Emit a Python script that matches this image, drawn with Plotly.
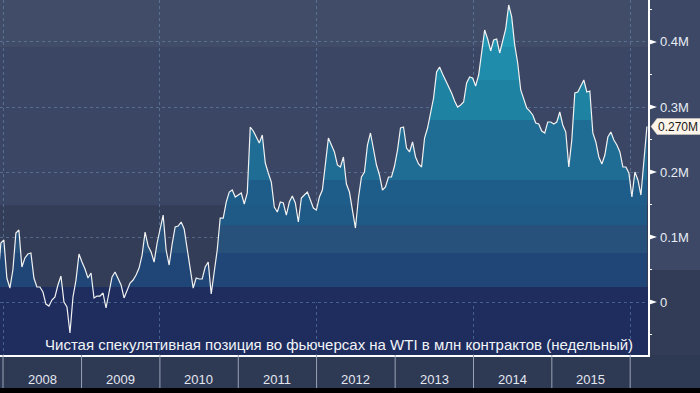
import pandas as pd
import plotly.graph_objects as go

# ---------------- data ----------------
END_DATE = "2016-03-19"          # last weekly report shown
STEP = "14D"                     # sampled every two weeks
# Net speculative position in WTI futures, thousand contracts
net_position_k = [
    33.8, 90.8, 95.4, 36.9, 21.5, 49.2, 106.2, 110.8, 53.8, 67.7,
    73.8, 75.4, 36.9, 23.1, 23.1, 15.4, -3.1, -6.2, 3.1, 7.7,
    26.2, 40.0, 0.0, -7.7, -47.7, 7.7, 33.8, 73.8, 61.5, 50.8,
    36.9, 44.6, 6.2, 9.2, 9.2, 13.8, -9.2, 12.3, 38.5, 46.2,
    35.4, 26.2, 6.2, 18.5, 29.2, 33.8, 41.5, 52.3, 72.3, 107.7,
    86.2, 76.9, 61.5, 90.8, 110.8, 133.8, 80.0, 56.9, 89.2, 115.4,
    116.9, 123.1, 112.3, 80.0, 53.8, 21.5, 36.9, 35.4, 35.4, 53.8,
    61.5, 12.3, 46.2, 80.0, 129.2, 129.2, 153.8, 169.2, 172.3, 161.5,
    164.6, 167.7, 150.8, 167.7, 269.2, 263.1, 253.8, 244.6, 256.9, 213.8,
    198.5, 184.6, 146.2, 138.5, 153.8, 152.3, 133.8, 153.8, 163.1, 152.3,
    123.1, 160.0, 164.6, 169.2, 156.9, 144.6, 141.5, 161.5, 172.3, 210.8,
    252.3, 241.5, 230.8, 210.8, 207.7, 223.1, 181.5, 169.2, 138.5, 113.8,
    160.0, 192.3, 200.0, 241.5, 260.0, 233.8, 210.8, 195.4, 172.3, 176.9,
    192.3, 192.3, 209.2, 233.8, 267.7, 269.2, 236.9, 230.8, 246.2, 223.1,
    212.3, 207.7, 252.3, 267.7, 292.3, 313.8, 353.8, 361.5, 350.8, 341.5,
    332.3, 321.5, 309.2, 300.0, 303.1, 307.7, 336.9, 346.2, 344.6, 332.3,
    349.2, 380.0, 418.5, 404.6, 386.2, 403.1, 404.6, 383.1, 401.5, 420.0,
    456.9, 438.5, 395.4, 367.7, 326.2, 312.3, 298.5, 293.8, 287.7, 275.4,
    273.8, 263.1, 260.0, 276.9, 276.9, 273.8, 276.9, 292.3, 272.3, 261.5,
    207.7, 249.2, 321.5, 323.1, 332.3, 341.5, 323.1, 324.6, 260.0, 246.2,
    223.1, 212.3, 226.2, 253.8, 261.5, 249.2, 241.5, 230.8, 207.7, 207.7,
    198.5, 161.5, 200.0, 187.7, 164.6, 218.5, 270.0,
]
years = [2008, 2009, 2010, 2011, 2012, 2013, 2014, 2015]
year_bounds = [2008, 2009, 2010, 2011, 2012, 2013, 2014, 2015, 2016]
y_ticks = [0, 100000, 200000, 300000, 400000]
y_tick_text = ["0", "0.1M", "0.2M", "0.3M", "0.4M"]
y_minor = [-50000, 50000, 150000, 250000, 350000, 450000]
last_label = "0.270M"
title_text = "Чистая спекулятивная позиция во фьючерсах на WTI в млн контрактов (недельный)"

# ---------------- figure ----------------
values = [v * 1000 for v in net_position_k]
dates = pd.date_range(end=END_DATE, periods=len(values), freq=STEP)

Y_MIN, Y_MAX = -81500, 464600
X_MIN, X_MAX = "2007-12-18", "2016-03-24"

W, H = 700, 393
ML, MR, MT, MB = 0, 52, 0, 38
PW = W - ML - MR
PH = H - MT - MB

def px_x(px):      # pixel x -> paper x
    return (px - ML) / PW

def px_y(py):      # pixel y -> paper y
    return (H - MB - py) / PH

# stepped fill colours along value axis (thousand-contract boundaries)
fill_bands = [
    (-100, 23, "#1e2c5e"),
    (23, 75, "#1f4677"),
    (75, 118, "#27517b"),
    (118, 149, "#1f5a86"),
    (149, 188, "#1e5d89"),
    (188, 280, "#1f6d94"),
    (280, 342, "#1e82a2"),
    (342, 392, "#1f8cab"),
    (392, 500, "#2398b4"),
]
g0, g1 = -100000, 500000
cscale = []
for lo, hi, c in fill_bands:
    cscale.append([(lo * 1000 - g0) / (g1 - g0), c])
    cscale.append([(hi * 1000 - g0) / (g1 - g0), c])

fig = go.Figure()
fig.add_trace(go.Scatter(
    x=dates, y=values, mode="lines",
    line=dict(color="#f2f2f2", width=1.2),
    fill="tozeroy",
    fillgradient=dict(type="vertical", colorscale=cscale, start=g0, stop=g1),
    hoverinfo="skip", showlegend=False,
))

shapes = []
# background bands in plot area
bg_bands = [
    (Y_MIN, 23000, "#1e2c5e"),
    (23000, 149000, "#333d58"),
    (149000, 392000, "#3a4663"),
    (392000, Y_MAX, "#404c68"),
]
for lo, hi, c in bg_bands:
    shapes.append(dict(type="rect", xref="paper", yref="y", x0=0, x1=1, y0=lo, y1=hi,
                       fillcolor=c, line=dict(width=0), layer="below"))
# right axis area
shapes.append(dict(type="rect", xref="paper", yref="paper", x0=1, x1=px_x(W + 2),
                   y0=px_y(270), y1=1, fillcolor="#3c4865", line=dict(width=0), layer="below"))
shapes.append(dict(type="rect", xref="paper", yref="paper", x0=1, x1=px_x(W + 2),
                   y0=0, y1=px_y(270), fillcolor="#323c57", line=dict(width=0), layer="below"))
# bottom year band
shapes.append(dict(type="rect", xref="paper", yref="paper", x0=0, x1=px_x(W + 2),
                   y0=px_y(388), y1=0, fillcolor="#2e3954", line=dict(width=0), layer="below"))
# year separators
for yb in year_bounds:
    shapes.append(dict(type="line", xref="x", yref="paper", x0=f"{yb}-01-01", x1=f"{yb}-01-01",
                       y0=0, y1=px_y(388), line=dict(color="#9aa3b5", width=1)))
# tick triangles
k_per_px = (Y_MAX - Y_MIN) / PH
for v in y_ticks:
    h = 3 * k_per_px
    shapes.append(dict(type="path", xref="paper", yref="y",
                       path=f"M {px_x(648)},{v + h} L {px_x(657)},{v} L {px_x(648)},{v - h} Z",
                       fillcolor="#ffffff", line=dict(width=0)))
for v in y_minor:
    shapes.append(dict(type="line", xref="paper", yref="y", x0=px_x(648), x1=px_x(652),
                       y0=v, y1=v, line=dict(color="#ffffff", width=1)))
# last value tag
lv = values[-1]
hh = 8 * k_per_px
shapes.append(dict(type="path", xref="paper", yref="y",
                   path=(f"M {px_x(651)},{lv} L {px_x(657)},{lv + hh} L {px_x(701)},{lv + hh} "
                         f"L {px_x(701)},{lv - hh} L {px_x(657)},{lv - hh} Z"),
                   fillcolor="#fdf5ea", line=dict(color="#d8d0c4", width=0.5)))

annotations = []
for v, t in zip(y_ticks, y_tick_text):
    annotations.append(dict(xref="paper", yref="y", x=px_x(658), y=v, text=t, showarrow=False,
                            xanchor="left", yanchor="middle",
                            font=dict(family="Liberation Sans, Arial", size=13, color="#e8ecf4")))
annotations.append(dict(xref="paper", yref="y", x=px_x(656), y=lv, text=last_label, showarrow=False,
                        xanchor="left", yanchor="middle",
                        font=dict(family="Liberation Sans, Arial", size=12, color="#1a1a1a")))
for yr in years:
    annotations.append(dict(xref="x", yref="paper", x=f"{yr}-07-02", y=px_y(380), text=str(yr),
                            showarrow=False, xanchor="center", yanchor="middle",
                            font=dict(family="Liberation Sans, Arial", size=13, color="#e4e8f0")))
annotations.append(dict(xref="paper", yref="paper", x=px_x(635), y=px_y(344), text=title_text,
                        showarrow=False, xanchor="right", yanchor="middle",
                        font=dict(family="Liberation Sans, Arial", size=15, color="#f2f4f8")))

fig.update_layout(
    width=W, height=H,
    margin=dict(l=ML, r=MR, t=MT, b=MB, pad=0),
    paper_bgcolor="#000000",
    plot_bgcolor="#3a4663",
    shapes=shapes,
    annotations=annotations,
    showlegend=False,
    xaxis=dict(
        type="date", range=[X_MIN, X_MAX],
        tick0="2008-01-01", dtick="M24",
        showticklabels=False, ticks="",
        showgrid=True, gridcolor="rgba(120,160,200,0.45)", griddash="3px,3px", gridwidth=1,
        showline=True, linecolor="#ffffff", linewidth=1.5,
        zeroline=False, fixedrange=True,
    ),
    yaxis=dict(
        range=[Y_MIN, Y_MAX], side="right",
        tickvals=y_ticks, showticklabels=False, ticks="",
        showgrid=True, gridcolor="rgba(120,160,200,0.45)", griddash="3px,3px", gridwidth=1,
        showline=True, linecolor="#ffffff", linewidth=1.5,
        zeroline=False, fixedrange=True,
    ),
)

fig.write_html("out.html")
